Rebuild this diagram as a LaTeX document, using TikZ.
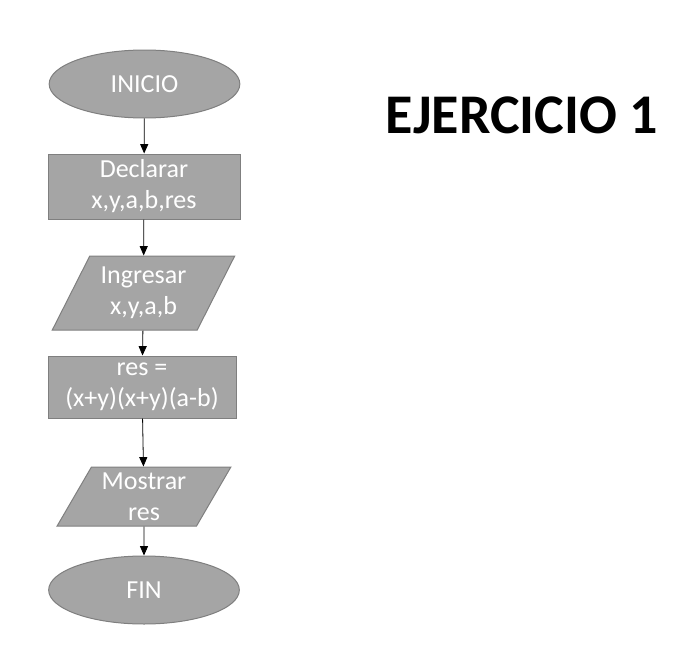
\documentclass[tikz,border=0pt]{standalone}
\usepackage{fontspec}
\setmainfont{Carlito}
\usetikzlibrary{shapes.geometric,arrows.meta}
\definecolor{boxfill}{HTML}{A5A5A5}
\definecolor{boxline}{HTML}{7F7F7F}
\tikzset{
  block/.style={draw=boxline, fill=boxfill, line width=0.75pt, text=white, align=center,
    font=\fontsize{19.5}{23.25}\selectfont, inner sep=0pt},
  term/.style={block, ellipse, minimum width=143pt, minimum height=51pt},
  proc/.style={block, rectangle, minimum width=144pt, minimum height=48.75pt},
  io/.style={block, trapezium, trapezium left angle=60, trapezium right angle=120,
    trapezium stretches=true},
  flow/.style={-{Triangle[length=7pt,width=6pt]}, line width=0.6pt}
}
\begin{document}
\begin{tikzpicture}[x=0.75pt, y=-0.75pt]
		\useasboundingbox (0,0) rectangle (686,650);

		\node[term] (inicio) at (144.5, 84) {INICIO};
		\node[proc] (declarar) at (144, 186.5) {Declarar\\x,y,a,b,res};
		\node[io, minimum width=137pt, minimum height=55.5pt] (ingresar) at (143.5, 293) {Ingresar\\x,y,a,b};
		\node[proc, minimum width=141pt, minimum height=46.5pt] (calculo) at (142, 387) {res =\\(x+y)(x+y)(a-b)};
		\node[io, minimum width=130.5pt, minimum height=44.25pt] (mostrar) at (144, 496.5) {Mostrar\\res};
		\node[term] (fin) at (144, 590) {FIN};

		\node[font=\fontsize{42}{50}\bfseries\selectfont] (titulo) at (522, 115) {EJERCICIO 1};

		\draw[flow] (inicio) -- (declarar);
		\draw[flow] (declarar) -- (ingresar);
		\draw[flow] (ingresar) -- (calculo);
		\draw[flow] (calculo) -- (mostrar);
		\draw[flow] (mostrar) -- (fin);
		\end{tikzpicture}
\end{document}
